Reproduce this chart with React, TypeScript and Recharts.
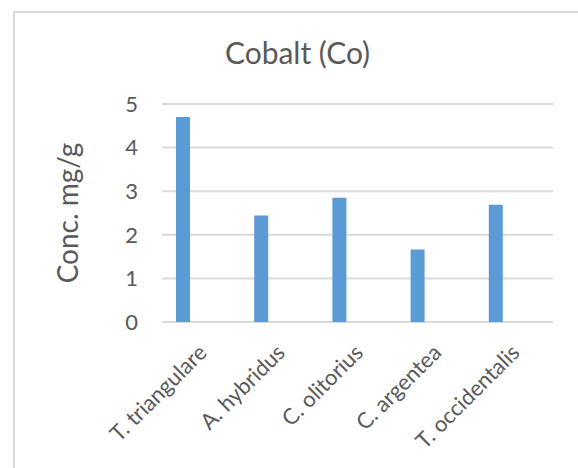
import React from "react";
import { BarChart, Bar, XAxis, YAxis, CartesianGrid, Label } from "recharts";

const species = ["T. triangulare", "A. hybridus", "C. olitorius", "C. argentea", "T. occidentalis"];
const cobalt = [4.7, 2.44, 2.85, 1.66, 2.69];
const yTicks = [0, 1, 2, 3, 4, 5];

const data = species.map((name, i) => ({ name, value: cobalt[i] }));

const FONT = "Lato, 'Open Sans', sans-serif";
const GRAY = "#595959";

function SpeciesTick({ x, y, payload }: any) {
    return (
        <text
            x={x + 25}
            y={y + 32}
            transform={`rotate(-45, ${x + 25}, ${y + 32})`}
            textAnchor="end"
            fill={GRAY}
            fontSize={22}
            fontFamily={FONT}
        >
            {payload.value}
        </text>
    );
}

export default function App() {
    return (
        <div style={{ position: "absolute", left: 0, top: 0, width: 578, height: 468, background: "#fff" }}>
            <div
                style={{
                    position: "absolute",
                    left: 13,
                    top: 11,
                    width: 565,
                    height: 457,
                    borderLeft: "2px solid #d9d9d9",
                    borderTop: "2px solid #d9d9d9",
                    boxSizing: "border-box",
                }}
            />
            <div
                style={{
                    position: "absolute",
                    left: 0,
                    width: 595,
                    top: 34,
                    textAlign: "center",
                    fontFamily: FONT,
                    fontSize: 30,
                    color: GRAY,
                    lineHeight: "36px",
                }}
            >
                Cobalt (Co)
            </div>
            <div style={{ position: "absolute", left: 0, top: 0 }}>
                <BarChart width={578} height={468} data={data} margin={{ top: 104, right: 25, left: 0, bottom: 0 }}>
                    <CartesianGrid vertical={false} stroke="#d9d9d9" strokeWidth={2} />
                    <XAxis
                        dataKey="name"
                        height={146}
                        tickLine={false}
                        axisLine={false}
                        tickSize={0}
                        tickMargin={0}
                        interval={0}
                        padding={{ left: -18, right: 18 }}
                        tick={<SpeciesTick />}
                    />
                    <YAxis
                        width={162}
                        domain={[0, 5]}
                        ticks={yTicks}
                        tickLine={false}
                        axisLine={false}
                        tickSize={0}
                        tickMargin={24}
                        tick={{ fill: GRAY, fontSize: 22, fontFamily: FONT }}
                    >
                        <Label
                            value="Conc. mg/g"
                            angle={-90}
                            position="insideLeft"
                            offset={0}
                            dx={68}
                            fill={GRAY}
                            fontSize={28}
                            fontFamily={FONT}
                            style={{ textAnchor: "middle" }}
                        />
                    </YAxis>
                    <Bar dataKey="value" fill="#5b9bd5" barSize={14} isAnimationActive={false} />
                </BarChart>
            </div>
        </div>
    );
}
